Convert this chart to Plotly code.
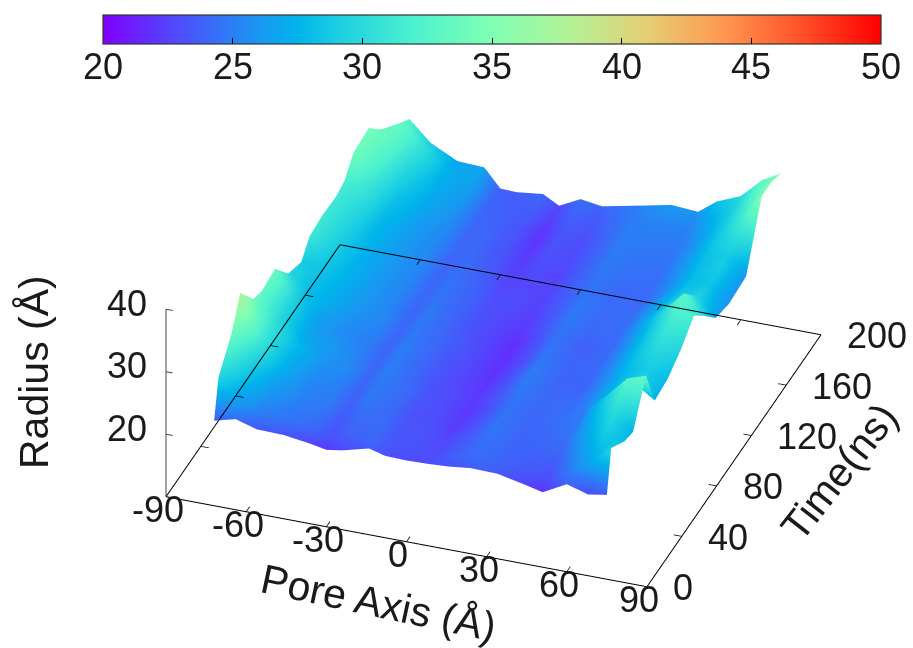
import plotly.graph_objects as go

pore_axis = [-72,-64,-56,-46,-36,-30,-24,-14,-8,0,8,16,24,34,44,51,60,68,75]
time_ns = [0,5,20,30,45,55,70,85,100,110,125,140,150,160,178,190,200]
radius = [
 [23.6,24.5,23.5,23.4,22.8,22.3,22.7,23.8,23.1,23,23.1,23.3,23.7,23.6,22.7,22,24,23,23.5],
 [29.5,26.5,25,24.6,24.1,23.2,23.8,24.1,23.3,23.2,23.0,23.8,24.3,23.9,23.4,23,25,27,30],
 [33.5,29,26.5,25.2,24.8,23.6,24.4,24.2,23.4,23.3,22.8,23.6,24.6,24,24,24,26.5,29,28],
 [38,31,27.5,25.4,25,23.8,24.8,24.1,23.2,23.1,22.4,23.4,24.8,24,24.2,24.6,27.5,30,27.5],
 [34,30.5,28,26,25.4,24,25,24.2,23.4,23,22.2,23.2,24.6,24,24.5,25,29,32.5,33.5],
 [33.3,29.5,27,26.2,25.2,24.1,25,24,23.2,22.9,22.3,23.4,24.8,24.2,24.3,25.4,28,29.5,27.5],
 [33.8,29,26.5,25.5,25,24,25,24,23.3,22.7,22,23.3,25,24,24,25.6,28,29,28],
 [30,28,27.3,26,25.4,24.1,24.8,24,23.5,22.8,21.9,23,24.7,24,24.2,25.8,28.5,30.5,29.6],
 [28.8,28.5,27.5,26.2,25.2,24,24.9,23.8,23.2,22.6,21.8,23.2,24.6,23.8,24.2,26,29,32,32],
 [31,29,27.6,26.2,25.3,24.1,24.6,23.9,23.2,22.8,22.3,23.4,24.8,24.1,24.4,26.3,29.5,33,30],
 [31.4,29.4,27.5,26.3,25.3,24.1,24.6,23.8,23,23,22.6,23.6,24.8,24.3,24.4,26.2,28.6,29.5,26.6],
 [31.2,30,27.7,26.3,25.4,24,24.3,23.5,22.7,22.8,22.7,23.7,24.7,24.1,24.2,25.6,28,28.5,25.8],
 [31.8,30.8,28,26.4,25.5,24.1,24.2,23.3,22.5,23,22.7,23.8,24.8,24.4,24.4,25.7,28,29,26],
 [34.2,31.6,28.4,26.8,25.6,24.1,24.1,23.2,22.3,23.2,22.9,23.8,24.9,24.5,24.5,26,28.2,29,26.2],
 [34.6,33,29.8,27.2,26.2,24.1,24,23.2,22,23.4,23.1,24,25,24.9,24.9,26.2,28.8,31.4,35.4],
 [31.8,33.6,30.8,27.2,26.6,24,23.7,23.7,22.4,23.9,23.5,24.3,25,25.4,25.2,27,29.2,32.4,35.4],
 [30,32.2,29,26.9,26.7,23.8,23.7,24.2,22.8,24.5,24,24.7,25.4,26.3,26,28.2,29.8,33,34.6],
]

x_range = [-90, 90]
y_range = [0, 200]
z_range = [10, 40]
x_view = [-91, 91]
y_view = [-1, 201]
z_view = [9.5, 40.5]
x_ticks = [-90,-60,-30,0,30,60,90]
y_ticks = [0,40,80,120,160,200]
z_ticks = [20,30,40]
c_ticks = [20,25,30,35,40,45,50]

rainbow = [[0,"#8000ff"],[.1,"#4d4ffc"],[.2,"#1a96f2"],[.25,"#00b4eb"],[.3,"#1acee3"],[.4,"#4df2ce"],
           [.5,"#80ffb4"],[.6,"#b3f296"],[.7,"#e6ce74"],[.8,"#ff964f"],[.9,"#ff4f28"],[1,"#ff0000"]]
FONT = "Liberation Sans"
INK = "#1a1a1a"
K = 1.6
C = dict(x=-.1064, y=-.0416, z=-.0053)
camera = dict(eye=dict(x=C["x"]+.2889*K, y=C["y"]-.8036*K, z=C["z"]+.5206*K), center=C,
              up=dict(x=0,y=0,z=1), projection=dict(type="orthographic"))
aspect = dict(x=1.5775*182/180, y=1.5876*202/200, z=.6777*31/30)

fig = go.Figure()
fig.add_trace(go.Surface(x=pore_axis, y=time_ns, z=radius, cmin=20, cmax=50, colorscale=rainbow,
    lighting=dict(ambient=1, diffuse=0, specular=0, roughness=1, fresnel=0), hoverinfo="skip", scene="scene",
    colorbar=dict(orientation="h", x=.5389, xanchor="center", y=1-15/648, yanchor="top", len=778/913, lenmode="fraction",
        thickness=29, thicknessmode="pixels", xpad=0, ypad=0, outlinecolor="#333333", outlinewidth=1.2,
        tickvals=c_ticks, ticks="inside", ticklen=6, tickcolor="black", showticklabels=False)))

fx = [x_range[0], x_range[1], x_range[1], x_range[0], x_range[0]]
fy = [y_range[0], y_range[0], y_range[1], y_range[1], y_range[0]]
fz = [z_range[0]]*5
tx, ty, tz = [], [], []
for v in x_ticks:
    tx += [v, v, None, v, v, None]; ty += [y_range[0], y_range[0]+4, None, y_range[1], y_range[1]-4, None]; tz += [z_range[0]]*2+[None]+[z_range[0]]*2+[None]
for v in y_ticks:
    tx += [x_range[0], x_range[0]+3, None, x_range[1], x_range[1]-3, None]; ty += [v, v, None, v, v, None]; tz += [z_range[0]]*2+[None]+[z_range[0]]*2+[None]
common = dict(mode="lines", hoverinfo="skip", scene="scene2", showlegend=False)
fig.add_trace(go.Scatter3d(x=fx, y=fy, z=fz, line=dict(color="black", width=2), **common))
fig.add_trace(go.Scatter3d(x=tx, y=ty, z=tz, line=dict(color="black", width=1.5), **common))
zx, zy, zz = [x_range[0]]*2, [y_range[0]]*2, list(z_range)
for v in z_ticks:
    zx += [None, x_range[0], x_range[0]+2.5]; zy += [None, y_range[0], y_range[0]]; zz += [None, v, v]
fig.add_trace(go.Scatter3d(x=zx, y=zy, z=zz, line=dict(color="#444444", width=2), **common))

def label(x, y, z, text, xshift=0, yshift=0, angle=0, size=36, xanchor="center"):
    return dict(x=x, y=y, z=z, text=text, showarrow=False, xshift=xshift, yshift=yshift, textangle=angle,
                xanchor=xanchor, yanchor="middle", font=dict(family=FONT, size=size, color=INK))
ann = []
for v in x_ticks:
    ann.append(label(v, y_range[0], z_range[0], str(v), xshift=-8, yshift=-13))
for v in y_ticks:
    ann.append(label(x_range[1], v, z_range[0], str(v), xshift=24, yshift=-1, xanchor="left"))
for v in z_ticks:
    ann.append(label(x_range[0], y_range[0], v, str(v), xshift=-17, yshift=6, xanchor="right"))
ann.append(label(0, y_range[0], z_range[0], "Pore Axis (Å)", xshift=-28, yshift=-61, angle=12, size=41))
ann.append(label(x_range[1], 100, z_range[0], "Time(ns)", xshift=105, yshift=-11, angle=-52, size=41))
ann.append(label(x_range[0], y_range[0], 25, "Radius (Å)", xshift=-132, yshift=31, angle=-90, size=41))

cbar_ann = [dict(x=(103+(v-c_ticks[0])/(c_ticks[-1]-c_ticks[0])*778)/913, y=1-66/648, xref="paper", yref="paper", text=str(v),
                 showarrow=False, xanchor="center", yanchor="middle", font=dict(family=FONT, size=36, color=INK)) for v in c_ticks]

hide = dict(visible=False)
fig.update_layout(width=913, height=648, margin=dict(l=0,r=0,t=0,b=0), paper_bgcolor="white", showlegend=False, annotations=cbar_ann,
    scene=dict(domain=dict(x=[0,1],y=[0,1]), camera=camera, aspectmode="manual", aspectratio=aspect,
        xaxis=dict(range=x_view, **hide), yaxis=dict(range=y_view, **hide), zaxis=dict(range=z_view, **hide), bgcolor="rgba(0,0,0,0)"),
    scene2=dict(domain=dict(x=[0,1],y=[0,1]), camera=camera, aspectmode="manual", aspectratio=aspect,
        xaxis=dict(range=x_view, **hide), yaxis=dict(range=y_view, **hide), zaxis=dict(range=z_view, **hide), bgcolor="rgba(0,0,0,0)",
        annotations=ann))
fig.write_html("out.html", config=dict(displayModeBar=False),
               post_script="document.body.style.margin='0';document.documentElement.style.overflow='hidden';")
